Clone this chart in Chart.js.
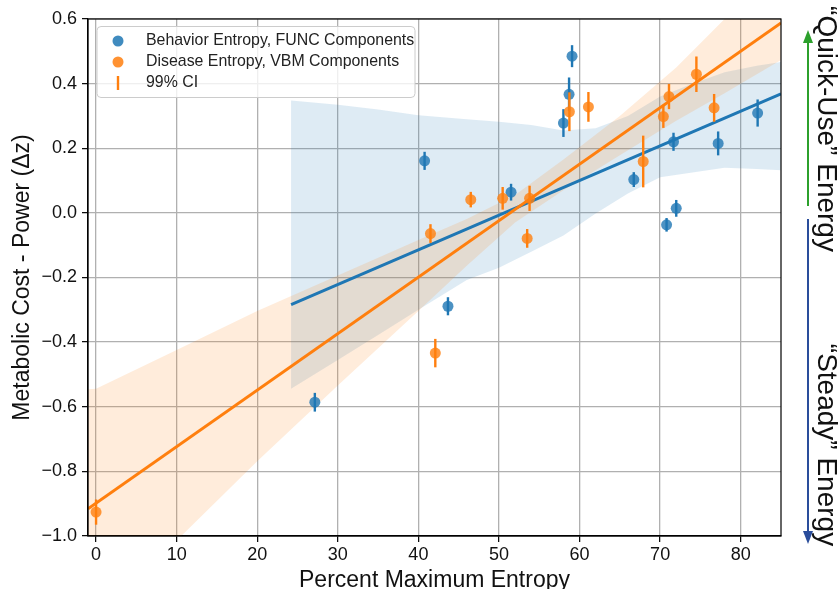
<!DOCTYPE html>
<html>
<head>
<meta charset="utf-8">
<script src="https://cdn.jsdelivr.net/npm/chart.js@4.4.0/dist/chart.umd.min.js"></script>
<style>
  html, body { margin: 0; padding: 0; background: #fff; }
  #wrap { width: 838px; height: 589px; }
</style>
</head>
<body>
<div id="wrap"><canvas id="myChart" width="838" height="589"></canvas></div>
<script>
// Behavior entropy (FUNC components) - blue
const behaviorX = [27.15, 40.77, 43.67, 51.5, 58.0, 58.7, 59.07, 66.73, 70.8, 71.66, 72.0, 77.2, 82.1];
const behaviorY = [-0.586, 0.161, -0.289, 0.064, 0.278, 0.367, 0.485, 0.103, -0.037, 0.22, 0.014, 0.215, 0.309];
const behaviorErr = [0.029, 0.028, 0.028, 0.026, 0.043, 0.052, 0.034, 0.023, 0.021, 0.028, 0.026, 0.037, 0.042];

// Disease entropy (VBM components) - orange
const diseaseX = [0.0, 41.5, 42.1, 46.5, 50.46, 53.5, 53.8, 58.74, 61.1, 67.9, 70.4, 71.1, 74.5, 76.7];
const diseaseY = [-0.926, -0.064, -0.434, 0.041, 0.045, -0.079, 0.045, 0.313, 0.328, 0.159, 0.298, 0.36, 0.429, 0.325];
const diseaseErr = [0.039, 0.029, 0.044, 0.024, 0.035, 0.029, 0.039, 0.06, 0.046, 0.08, 0.035, 0.039, 0.055, 0.043];

// regression lines
const behaviorFitX = [24.2, 85];
const behaviorFitY = [-0.284, 0.368];
const diseaseFitX = [-1, 85];
const diseaseFitY = [-0.916, 0.588];

// confidence bands
const behaviorBandX = [24.2, 30, 35, 40, 46, 50, 54, 58, 62, 66, 70, 74, 78, 82, 85];
const behaviorBandHi = [0.348, 0.335, 0.32, 0.302, 0.29, 0.282, 0.272, 0.255, 0.262, 0.30, 0.36, 0.40, 0.435, 0.455, 0.467];
const behaviorBandLo = [-0.544, -0.455, -0.378, -0.30, -0.208, -0.17, -0.12, -0.07, -0.002, 0.06, 0.11, 0.125, 0.14, 0.136, 0.132];

const diseaseBandX = [-1, 0, 10, 20, 30, 40, 46, 52, 58, 65, 72, 78, 85];
const diseaseBandHi = [-0.546, -0.544, -0.424, -0.304, -0.194, -0.084, -0.019, 0.055, 0.165, 0.30, 0.45, 0.60, 0.758];
const diseaseBandLo = [-1.286, -1.254, -1.014, -0.769, -0.534, -0.304, -0.164, -0.03, 0.07, 0.178, 0.285, 0.37, 0.473];

const legendLabels = ["Behavior Entropy, FUNC Components", "Disease Entropy, VBM Components", "99% CI"];
const sideLabels = ["\u201CQuick-Use\u201D Energy", "\u201CSteady\u201D Energy"];

const BLUE = "#1f77b4";
const ORANGE = "#ff7f0e";
const FONT = "'Liberation Sans', Arial, Helvetica, sans-serif";

const pts = (xs, ys) => xs.map((x, i) => ({ x: x, y: ys[i] }));

// error bars drawn just before the points of each scatter dataset
const errorBars = {
    id: "errorBars",
    beforeDatasetDraw(chart, args) {
        const ds = chart.data.datasets[args.index];
        if (!ds.errors) return;
        const ctx = chart.ctx;
        const xs = chart.scales.x, ys = chart.scales.y;
        ctx.save();
        ctx.strokeStyle = ds.errorColor;
        ctx.lineWidth = 2.4;
        ds.data.forEach((p, i) => {
            const px = xs.getPixelForValue(p.x);
            ctx.beginPath();
            ctx.moveTo(px, ys.getPixelForValue(p.y - ds.errors[i]));
            ctx.lineTo(px, ys.getPixelForValue(p.y + ds.errors[i]));
            ctx.stroke();
        });
        ctx.restore();
    }
};

// frame, legend box and the energy arrows on the right
const decorations = {
    id: "decorations",
    afterDraw(chart) {
        const ctx = chart.ctx;
        const a = chart.chartArea;
        ctx.save();
        ctx.strokeStyle = "#000";
        ctx.lineWidth = 1.2;
        ctx.strokeRect(a.left, a.top, a.right - a.left, a.bottom - a.top);

        // legend
        const bx = 97, by = 26.5, bw = 318, bh = 71, r = 4;
        ctx.beginPath();
        ctx.moveTo(bx + r, by);
        ctx.lineTo(bx + bw - r, by);
        ctx.quadraticCurveTo(bx + bw, by, bx + bw, by + r);
        ctx.lineTo(bx + bw, by + bh - r);
        ctx.quadraticCurveTo(bx + bw, by + bh, bx + bw - r, by + bh);
        ctx.lineTo(bx + r, by + bh);
        ctx.quadraticCurveTo(bx, by + bh, bx, by + bh - r);
        ctx.lineTo(bx, by + r);
        ctx.quadraticCurveTo(bx, by, bx + r, by);
        ctx.closePath();
        ctx.fillStyle = "rgba(255,255,255,0.8)";
        ctx.fill();
        ctx.strokeStyle = "#cccccc";
        ctx.lineWidth = 1;
        ctx.stroke();

        const rows = [41, 62, 83];
        ctx.fillStyle = "rgba(31,119,180,0.85)";
        ctx.beginPath(); ctx.arc(118, rows[0], 5.5, 0, Math.PI * 2); ctx.fill();
        ctx.fillStyle = "rgba(255,127,14,0.85)";
        ctx.beginPath(); ctx.arc(118, rows[1], 5.5, 0, Math.PI * 2); ctx.fill();
        ctx.strokeStyle = ORANGE;
        ctx.lineWidth = 2.4;
        ctx.beginPath(); ctx.moveTo(118, rows[2] - 7); ctx.lineTo(118, rows[2] + 7); ctx.stroke();

        ctx.fillStyle = "#222";
        ctx.font = "15.9px " + FONT;
        ctx.textBaseline = "middle";
        ctx.textAlign = "left";
        legendLabels.forEach((t, i) => ctx.fillText(t, 146, rows[i]));

        // arrows
        const ax = 808;
        const drawArrow = (y0, y1, color) => {
            const dir = Math.sign(y1 - y0);
            ctx.strokeStyle = color;
            ctx.fillStyle = color;
            ctx.lineWidth = 2;
            ctx.beginPath(); ctx.moveTo(ax, y0); ctx.lineTo(ax, y1 - dir * 10); ctx.stroke();
            ctx.beginPath();
            ctx.moveTo(ax, y1);
            ctx.lineTo(ax - 5, y1 - dir * 13);
            ctx.lineTo(ax + 5, y1 - dir * 13);
            ctx.closePath();
            ctx.fill();
        };
        drawArrow(206, 30, "#2ca02c");
        drawArrow(219, 544, "#2a4d9b");

        ctx.fillStyle = "#111";
        ctx.font = "28px " + FONT;
        ctx.textAlign = "center";
        ctx.textBaseline = "alphabetic";
        [[sideLabels[0], 129], [sideLabels[1], 445]].forEach(([t, cy]) => {
            ctx.save();
            ctx.translate(818, cy);
            ctx.rotate(Math.PI / 2);
            ctx.fillText(t, 0, 0);
            ctx.restore();
        });
        ctx.restore();
    }
};

const ctx = document.getElementById("myChart").getContext("2d");

const chart = new Chart(ctx, {
    type: "scatter",
    data: {
        datasets: [
            { label: "band blue hi", data: pts(behaviorBandX, behaviorBandHi), showLine: true, pointRadius: 0, borderWidth: 0,
              borderColor: "rgba(0,0,0,0)", backgroundColor: "rgba(31,119,180,0.15)", fill: "+1", order: 6 },
            { label: "band blue lo", data: pts(behaviorBandX, behaviorBandLo), showLine: true, pointRadius: 0, borderWidth: 0,
              borderColor: "rgba(0,0,0,0)", fill: false, order: 6 },
            { label: "band orange hi", data: pts(diseaseBandX, diseaseBandHi), showLine: true, pointRadius: 0, borderWidth: 0,
              borderColor: "rgba(0,0,0,0)", backgroundColor: "rgba(255,127,14,0.15)", fill: "+1", order: 5 },
            { label: "band orange lo", data: pts(diseaseBandX, diseaseBandLo), showLine: true, pointRadius: 0, borderWidth: 0,
              borderColor: "rgba(0,0,0,0)", fill: false, order: 5 },
            { label: "fit blue", data: pts(behaviorFitX, behaviorFitY), showLine: true, pointRadius: 0,
              borderColor: BLUE, borderWidth: 3, order: 4 },
            { label: "fit orange", data: pts(diseaseFitX, diseaseFitY), showLine: true, pointRadius: 0,
              borderColor: ORANGE, borderWidth: 3, order: 3 },
            { label: legendLabels[0], data: pts(behaviorX, behaviorY), errors: behaviorErr, errorColor: BLUE,
              pointRadius: 5.5, borderWidth: 0, backgroundColor: "rgba(31,119,180,0.8)", order: 2 },
            { label: legendLabels[1], data: pts(diseaseX, diseaseY), errors: diseaseErr, errorColor: ORANGE,
              pointRadius: 5.5, borderWidth: 0, backgroundColor: "rgba(255,127,14,0.8)", order: 1 }
        ]
    },
    options: {
        responsive: false,
        animation: false,
        devicePixelRatio: 1,
        layout: { padding: { top: 19, right: 57, bottom: 0, left: 0 } },
        plugins: { legend: { display: false }, tooltip: { enabled: false } },
        scales: {
            x: {
                type: "linear", min: -1, max: 85,
                afterFit: (s) => { s.height = 53; },
                ticks: { stepSize: 10, includeBounds: false, padding: 2, color: "#111",
                         font: { size: 18, family: FONT }, callback: (v) => String(v) },
                grid: { color: "#b0b0b0", lineWidth: 1.3, tickColor: "#000", tickLength: 6, tickWidth: 1.2 },
                border: { color: "#000", width: 1.2 },
                title: { display: true, text: "Percent Maximum Entropy", color: "#111",
                         font: { size: 23, family: FONT, lineHeight: 1 }, padding: { top: 0, bottom: -3 } }
            },
            y: {
                type: "linear", min: -1.0, max: 0.6,
                afterFit: (s) => { s.width = 88; },
                ticks: { stepSize: 0.2, padding: 5, color: "#111", font: { size: 18, family: FONT },
                         callback: (v) => (Math.abs(v) < 1e-9 ? 0 : v).toFixed(1).replace("-", "\u2212") },
                grid: { color: "#b0b0b0", lineWidth: 1.3, tickColor: "#000", tickLength: 6, tickWidth: 1.2 },
                border: { color: "#000", width: 1.2 },
                title: { display: true, text: "Metabolic Cost - Power (\u0394z)", color: "#111",
                         font: { size: 23, family: FONT, lineHeight: 1 }, padding: { top: 11, bottom: 0 } }
            }
        }
    },
    plugins: [errorBars, decorations]
});
</script>
</body>
</html>
